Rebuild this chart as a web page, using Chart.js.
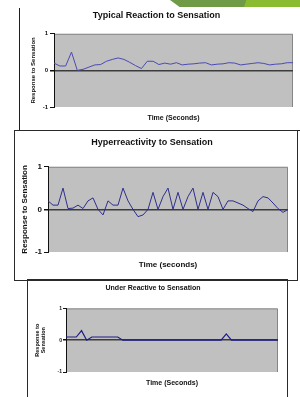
<!DOCTYPE html>
<html>
<head>
<meta charset="utf-8">
<script src="https://cdn.jsdelivr.net/npm/chart.js@4.4.0/dist/chart.umd.min.js"></script>
<style>
  html, body { margin: 0; padding: 0; background: #fff; }
  body { width: 300px; height: 397px; position: relative; overflow: hidden; }
  .abs { position: absolute; }
  .frame { position: absolute; border: 1px solid #2a2a2a; box-sizing: border-box; }
  .green-dark { left: 170px; top: 0; width: 80px; height: 7px; background: #6f9a46;
    clip-path: polygon(0 0, 100% 0, 94% 100%, 12% 100%); }
  .green-light { left: 244px; top: 0; width: 56px; height: 7px; background: #8bbb31;
    clip-path: polygon(4% 0, 100% 0, 100% 100%, 0 100%); }
</style>
</head>
<body>

<div class="abs green-dark"></div>
<div class="abs green-light"></div>

<!-- frame lines round the charts -->
<div class="abs" style="left:19px;top:8px;width:1px;height:123px;background:#1e1e1e"></div>
<div class="abs" style="left:19px;top:130px;width:281px;height:1px;background:#1e1e1e"></div>
<div class="frame" style="left:14px;top:130px;width:284px;height:151px"></div>
<div class="frame" style="left:27px;top:279px;width:261px;height:130px"></div>

<div class="abs" style="left:20px;top:8px;width:277px;height:122px"><canvas id="typical-chart"></canvas></div>
<div class="abs" style="left:16px;top:132px;width:280px;height:147px"><canvas id="hyper-chart"></canvas></div>
<div class="abs" style="left:28px;top:280px;width:258px;height:117px"><canvas id="under-chart"></canvas></div>

<script>
// values (one point per second)
const typicalValues = [0.2, 0.12, 0.12, 0.5, 0.0, 0.03, 0.09, 0.15, 0.16, 0.25,
    0.3, 0.34, 0.3, 0.22, 0.13, 0.05, 0.25, 0.25, 0.16, 0.2,
    0.17, 0.21, 0.15, 0.17, 0.18, 0.2, 0.21, 0.15, 0.17, 0.18,
    0.21, 0.2, 0.15, 0.17, 0.19, 0.21, 0.19, 0.15, 0.17, 0.18,
    0.21, 0.21];
const hyperValues = [0.2, 0.1, 0.1, 0.5, 0.02, 0.03, 0.1, 0.02, 0.2, 0.27,
    0.0, -0.13, 0.2, 0.1, 0.1, 0.5, 0.2, 0.0, -0.17, -0.13,
    0.0, 0.4, 0.0, 0.3, 0.5, 0.0, 0.4, 0.0, 0.3, 0.5,
    0.0, 0.4, 0.0, 0.4, 0.3, 0.0, 0.2, 0.2, 0.15, 0.1,
    0.02, -0.05, 0.2, 0.3, 0.27, 0.15, 0.02, -0.07, 0.0];
const underValues = [0.1, 0.1, 0.1, 0.3, 0.0, 0.1, 0.1, 0.1, 0.1, 0.1,
    0.1, 0.0, 0.0, 0.0, 0.0, 0.0, 0.0, 0.0, 0.0, 0.0,
    0.0, 0.0, 0.0, 0.0, 0.0, 0.0, 0.0, 0.0, 0.0, 0.0,
    0.0, 0.2, 0.0, 0.0, 0.0, 0.0, 0.0, 0.0, 0.0, 0.0,
    0.0, 0.0];
const yTicks = [-1, 0, 1];

const FONT = "'Liberation Sans', Arial, sans-serif";

// grey plot area like the old spreadsheet charts
const plotBackground = {
    id: 'plotBackground',
    beforeDraw(chart) {
        const { ctx, chartArea: a } = chart;
        ctx.save();
        ctx.fillStyle = '#c0c0c0';
        ctx.fillRect(a.left, a.top, a.right - a.left, a.bottom - a.top);
        ctx.strokeStyle = '#868686';
        ctx.lineWidth = 1;
        ctx.beginPath();
        ctx.moveTo(a.left, a.top + 0.5);
        ctx.lineTo(a.right - 0.5, a.top + 0.5);
        ctx.lineTo(a.right - 0.5, a.bottom);
        ctx.stroke();
        ctx.restore();
    }
};

function makeChart(id, values, o) {
    const labels = values.map((v, i) => String(i + 1));
    return new Chart(document.getElementById(id), {
        type: 'line',
        data: {
            labels: labels,
            datasets: [{
                data: values,
                borderColor: o.lineColor,
                borderWidth: o.lineWidth,
                pointRadius: 0,
                tension: 0,
                fill: false
            }]
        },
        options: {
            responsive: true,
            maintainAspectRatio: false,
            animation: false,
            layout: { padding: { left: 0, right: o.padRight, top: 0, bottom: 0 } },
            plugins: {
                legend: { display: false },
                tooltip: { enabled: false },
                title: {
                    display: true,
                    text: o.title,
                    color: '#111',
                    font: { family: FONT, size: o.titleSize, weight: 'bold' },
                    padding: o.titlePad
                }
            },
            scales: {
                x: {
                    type: 'category',
                    offset: false,
                    grid: { display: false },
                    border: { display: false },
                    ticks: { display: false },
                    title: {
                        display: true,
                        text: o.xTitle,
                        color: '#111',
                        font: { family: FONT, size: o.xTitleSize, weight: 'bold' },
                        padding: o.xTitlePad
                    },
                    afterFit(scale) { scale.height = o.xHeight; }
                },
                y: {
                    min: -1,
                    max: 1,
                    afterBuildTicks(scale) { scale.ticks = yTicks.map(v => ({ value: v })); },
                    grid: {
                        drawOnChartArea: true,
                        color: ctx => (ctx.tick && ctx.tick.value === 0) ? '#3c3c3c' : 'rgba(0,0,0,0)',
                        lineWidth: ctx => (ctx.tick && ctx.tick.value === 0) ? 1.5 : 1,
                        tickColor: '#111',
                        tickLength: o.tickLength
                    },
                    border: { display: true, color: '#111', width: 1 },
                    ticks: {
                        color: '#111',
                        padding: o.tickPad,
                        font: { family: FONT, size: o.tickSize, weight: 'bold' }
                    },
                    title: {
                        display: true,
                        text: o.yTitle,
                        color: '#111',
                        font: { family: FONT, size: o.yTitleSize, weight: 'bold', lineHeight: 1.1 },
                        padding: o.yTitlePad
                    },
                    afterFit(scale) { scale.width = o.yWidth; }
                }
            }
        },
        plugins: [plotBackground]
    });
}

makeChart('typical-chart', typicalValues, {
    title: 'Typical Reaction to Sensation', titleSize: 9, titlePad: { top: 2, bottom: 13 },
    xTitle: 'Time (Seconds)', xTitleSize: 7, xTitlePad: { top: 7, bottom: 8 }, xHeight: 23,
    yTitle: 'Response to Sensation', yTitleSize: 6, yTitlePad: { top: 10, bottom: 0 }, yWidth: 34,
    tickSize: 6, tickLength: 4, tickPad: 2, padRight: 4,
    lineColor: '#4a4ab4', lineWidth: 1
});

makeChart('hyper-chart', hyperValues, {
    title: 'Hyperreactivity to Sensation', titleSize: 9, titlePad: { top: 5, bottom: 19 },
    xTitle: 'Time (seconds)', xTitleSize: 8, xTitlePad: { top: 8, bottom: 9 }, xHeight: 27,
    yTitle: 'Response to Sensation', yTitleSize: 8, yTitlePad: { top: 4, bottom: 0 }, yWidth: 32,
    tickSize: 8, tickLength: 4, tickPad: 2, padRight: 8,
    lineColor: '#2e2e8e', lineWidth: 1
});

makeChart('under-chart', underValues, {
    title: 'Under Reactive to Sensation', titleSize: 7, titlePad: { top: 4, bottom: 16 },
    xTitle: 'Time (Seconds)', xTitleSize: 7, xTitlePad: { top: 6, bottom: 10 }, xHeight: 25,
    yTitle: ['Response to', 'Sensation'], yTitleSize: 5.5, yTitlePad: { top: 6, bottom: 0 }, yWidth: 38,
    tickSize: 5, tickLength: 3, tickPad: 1, padRight: 8,
    lineColor: '#1c1c84', lineWidth: 1.2
});
</script>
</body>
</html>
